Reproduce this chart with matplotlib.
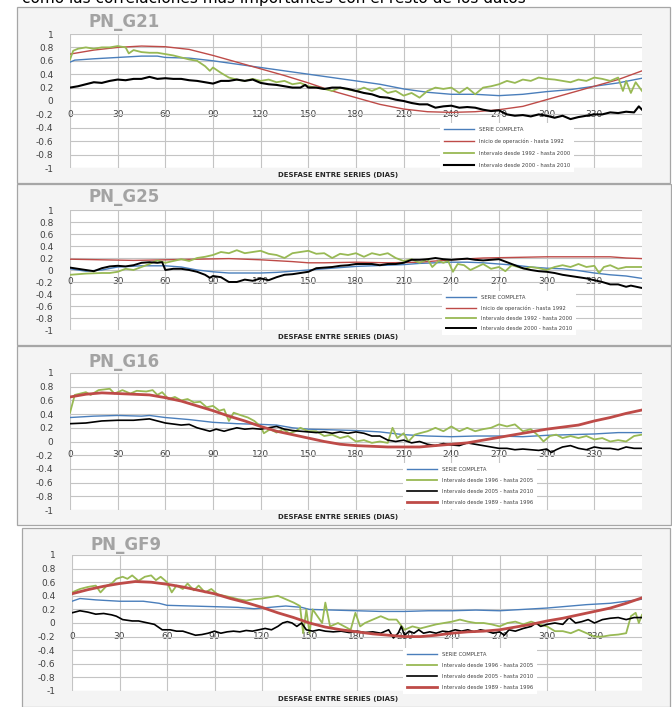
import matplotlib
matplotlib.use("Agg")
import matplotlib.pyplot as plt
from matplotlib.patches import Rectangle
from matplotlib.ticker import FuncFormatter, MultipleLocator

# ---- data (day, correlation) ----
# PN_G21
g21_serie = [(0, 0.58), (3, 0.61), (15, 0.63), (30, 0.65), (45, 0.67), (55, 0.67), (60, 0.65),
             (75, 0.64), (90, 0.6), (105, 0.55), (120, 0.5), (135, 0.45), (150, 0.4), (165, 0.35),
             (180, 0.3), (195, 0.25), (210, 0.18), (225, 0.13), (240, 0.1), (255, 0.1), (270, 0.08),
             (285, 0.1), (300, 0.14), (315, 0.17), (330, 0.22), (345, 0.27), (360, 0.34)]
g21_inicio = [(0, 0.7), (15, 0.76), (30, 0.8), (45, 0.82), (60, 0.81), (75, 0.77), (90, 0.68),
              (105, 0.58), (120, 0.48), (135, 0.38), (150, 0.27), (165, 0.15), (180, 0.05),
              (195, -0.05), (210, -0.12), (225, -0.16), (240, -0.17), (255, -0.16), (270, -0.13),
              (285, -0.08), (300, 0.02), (315, 0.12), (330, 0.22), (345, 0.32), (360, 0.45)]
g21_92_00 = [(0, 0.62), (2, 0.75), (5, 0.78), (10, 0.8), (15, 0.78), (20, 0.8), (25, 0.8), (30, 0.82),
             (35, 0.8), (37, 0.71), (40, 0.76), (45, 0.73), (50, 0.72), (55, 0.72), (60, 0.7),
             (65, 0.68), (70, 0.65), (75, 0.62), (80, 0.6), (85, 0.52), (88, 0.45), (90, 0.5),
             (95, 0.42), (100, 0.35), (105, 0.32), (110, 0.3), (115, 0.33), (120, 0.3), (125, 0.32),
             (130, 0.28), (135, 0.3), (140, 0.25), (145, 0.27), (150, 0.22), (155, 0.2), (160, 0.18),
             (165, 0.15), (170, 0.2), (175, 0.17), (180, 0.15), (185, 0.2), (190, 0.15), (195, 0.2),
             (200, 0.12), (205, 0.15), (210, 0.08), (215, 0.12), (220, 0.05), (225, 0.15), (230, 0.2),
             (235, 0.18), (240, 0.2), (245, 0.12), (250, 0.2), (255, 0.1), (260, 0.2), (265, 0.22),
             (270, 0.25), (275, 0.3), (280, 0.27), (285, 0.32), (290, 0.3), (295, 0.35), (300, 0.33),
             (305, 0.32), (310, 0.3), (315, 0.28), (320, 0.32), (325, 0.3), (330, 0.35), (335, 0.33),
             (340, 0.3), (345, 0.35), (348, 0.15), (350, 0.3), (353, 0.12), (356, 0.28), (360, 0.15)]
g21_00_10 = [(0, 0.2), (5, 0.22), (10, 0.25), (15, 0.28), (20, 0.27), (25, 0.3), (30, 0.32), (35, 0.31),
             (40, 0.33), (45, 0.33), (50, 0.36), (55, 0.33), (60, 0.34), (65, 0.33), (70, 0.33),
             (75, 0.31), (80, 0.3), (85, 0.28), (90, 0.26), (95, 0.3), (100, 0.3), (105, 0.32),
             (110, 0.3), (115, 0.32), (120, 0.27), (125, 0.25), (130, 0.24), (135, 0.22), (140, 0.2),
             (145, 0.2), (148, 0.24), (150, 0.2), (155, 0.2), (160, 0.18), (165, 0.2), (170, 0.2),
             (175, 0.18), (180, 0.15), (185, 0.12), (190, 0.1), (195, 0.06), (200, 0.05), (205, 0.02),
             (210, 0.0), (215, -0.03), (220, -0.05), (225, -0.05), (230, -0.1), (235, -0.08),
             (240, -0.07), (245, -0.1), (250, -0.09), (255, -0.1), (260, -0.13), (265, -0.15),
             (270, -0.14), (275, -0.2), (280, -0.22), (285, -0.21), (290, -0.23), (295, -0.2),
             (300, -0.22), (305, -0.25), (310, -0.22), (315, -0.27), (320, -0.24), (325, -0.22),
             (330, -0.2), (335, -0.2), (340, -0.17), (345, -0.18), (350, -0.16), (355, -0.17),
             (358, -0.08), (360, -0.13)]

# PN_G25
g25_serie = [(0, 0.02), (10, -0.02), (20, 0.0), (30, 0.05), (45, 0.07), (60, 0.07), (70, 0.05),
             (80, 0.0), (90, -0.03), (100, -0.05), (110, -0.05), (120, -0.05), (130, -0.04),
             (140, -0.02), (150, 0.0), (160, 0.02), (170, 0.04), (180, 0.06), (190, 0.07), (200, 0.08),
             (210, 0.09), (220, 0.11), (230, 0.12), (240, 0.13), (250, 0.13), (260, 0.12), (270, 0.1),
             (280, 0.08), (290, 0.05), (300, 0.03), (310, 0.02), (320, -0.01), (330, -0.05),
             (340, -0.08), (350, -0.1), (360, -0.14)]
g25_inicio = [(0, 0.18), (20, 0.17), (40, 0.16), (60, 0.17), (80, 0.18), (100, 0.19), (120, 0.17),
              (140, 0.14), (150, 0.12), (160, 0.12), (180, 0.13), (200, 0.12), (220, 0.13), (240, 0.17),
              (260, 0.2), (280, 0.21), (300, 0.22), (320, 0.22), (340, 0.22), (350, 0.2), (360, 0.19)]
g25_92_00 = [(0, -0.08), (10, -0.06), (20, -0.05), (25, -0.05), (30, -0.03), (35, 0.02), (40, 0.0),
             (45, 0.05), (50, 0.1), (55, 0.16), (60, 0.12), (65, 0.15), (70, 0.18), (75, 0.15),
             (80, 0.2), (85, 0.22), (90, 0.25), (95, 0.3), (100, 0.28), (105, 0.33), (110, 0.28),
             (115, 0.3), (120, 0.32), (125, 0.27), (130, 0.25), (135, 0.2), (140, 0.28), (145, 0.3),
             (150, 0.32), (155, 0.27), (160, 0.28), (165, 0.2), (170, 0.27), (175, 0.25), (180, 0.28),
             (185, 0.22), (190, 0.28), (195, 0.25), (200, 0.28), (205, 0.2), (210, 0.15), (215, 0.18),
             (220, 0.12), (225, 0.18), (228, 0.05), (232, 0.15), (235, 0.12), (238, 0.15), (241, -0.03),
             (244, 0.1), (248, 0.08), (252, 0.0), (256, 0.05), (260, 0.1), (265, 0.02), (270, 0.05),
             (274, -0.02), (278, 0.08), (282, 0.05), (286, 0.02), (290, 0.05), (295, 0.03), (300, 0.0),
             (305, 0.05), (310, 0.08), (315, 0.05), (320, 0.1), (325, 0.05), (330, 0.07), (333, -0.05),
             (336, 0.05), (340, 0.08), (345, 0.02), (350, 0.05), (355, 0.05), (360, 0.05)]
g25_00_10 = [(0, 0.04), (5, 0.02), (10, 0.0), (15, -0.02), (20, 0.03), (25, 0.06), (30, 0.07),
             (35, 0.06), (40, 0.08), (45, 0.12), (50, 0.13), (55, 0.12), (58, 0.13), (60, 0.0),
             (65, 0.02), (70, 0.02), (75, 0.0), (80, -0.03), (85, -0.08), (88, -0.13), (90, -0.1),
             (95, -0.12), (100, -0.2), (105, -0.2), (110, -0.16), (115, -0.18), (120, -0.14),
             (125, -0.17), (130, -0.12), (135, -0.08), (140, -0.07), (145, -0.05), (150, -0.03),
             (155, 0.03), (160, 0.04), (165, 0.05), (170, 0.07), (175, 0.08), (180, 0.1), (185, 0.1),
             (190, 0.1), (195, 0.08), (200, 0.1), (205, 0.1), (210, 0.12), (215, 0.17), (220, 0.17),
             (225, 0.18), (230, 0.2), (235, 0.18), (240, 0.17), (245, 0.18), (250, 0.19), (255, 0.17),
             (260, 0.16), (265, 0.17), (270, 0.18), (275, 0.13), (280, 0.08), (285, 0.03), (290, 0.0),
             (295, -0.02), (300, -0.03), (305, -0.05), (310, -0.08), (315, -0.1), (320, -0.12),
             (325, -0.14), (330, -0.17), (335, -0.2), (340, -0.24), (345, -0.24), (350, -0.28),
             (353, -0.26), (360, -0.3)]

# PN_G16
g16_serie = [(0, 0.35), (15, 0.37), (30, 0.38), (45, 0.37), (50, 0.38), (60, 0.35), (75, 0.32),
             (90, 0.28), (105, 0.26), (120, 0.25), (130, 0.24), (140, 0.2), (150, 0.18), (165, 0.17),
             (180, 0.16), (195, 0.14), (210, 0.1), (225, 0.08), (240, 0.07), (255, 0.08), (270, 0.08),
             (285, 0.07), (300, 0.09), (315, 0.1), (330, 0.11), (345, 0.13), (360, 0.13)]
g16_96_05 = [(0, 0.42), (3, 0.68), (10, 0.72), (13, 0.68), (18, 0.75), (25, 0.77), (28, 0.7),
             (33, 0.75), (38, 0.7), (42, 0.74), (48, 0.73), (52, 0.75), (55, 0.68), (58, 0.72),
             (62, 0.62), (66, 0.65), (70, 0.6), (74, 0.62), (78, 0.57), (82, 0.58), (86, 0.5),
             (90, 0.52), (94, 0.45), (97, 0.47), (100, 0.3), (103, 0.42), (108, 0.38), (112, 0.35),
             (116, 0.3), (120, 0.22), (122, 0.12), (126, 0.18), (130, 0.13), (134, 0.18), (138, 0.12),
             (142, 0.15), (145, 0.2), (150, 0.15), (155, 0.15), (160, 0.08), (165, 0.1), (170, 0.05),
             (175, 0.08), (180, 0.0), (185, 0.02), (190, -0.02), (195, 0.0), (200, -0.02), (203, 0.2),
             (206, 0.05), (210, 0.12), (213, 0.0), (217, 0.1), (220, 0.12), (225, 0.15), (230, 0.2),
             (235, 0.15), (240, 0.22), (245, 0.15), (250, 0.2), (255, 0.15), (260, 0.18), (265, 0.2),
             (270, 0.25), (275, 0.22), (280, 0.25), (285, 0.15), (290, 0.18), (295, 0.08), (298, 0.0),
             (302, 0.08), (306, 0.1), (310, 0.05), (315, 0.08), (320, 0.05), (325, 0.08), (330, 0.03),
             (335, 0.05), (340, 0.0), (345, 0.02), (350, 0.0), (355, 0.08), (360, 0.1)]
g16_05_10 = [(0, 0.26), (10, 0.27), (20, 0.3), (30, 0.31), (40, 0.31), (50, 0.33), (55, 0.3),
             (60, 0.27), (70, 0.24), (75, 0.25), (80, 0.2), (88, 0.15), (92, 0.18), (97, 0.15),
             (100, 0.17), (105, 0.2), (110, 0.18), (115, 0.19), (120, 0.18), (125, 0.2), (130, 0.22),
             (135, 0.18), (140, 0.16), (145, 0.15), (150, 0.14), (155, 0.13), (160, 0.14), (165, 0.12),
             (170, 0.14), (175, 0.12), (180, 0.14), (185, 0.12), (190, 0.08), (195, 0.08), (200, 0.02),
             (205, 0.0), (210, 0.02), (215, -0.02), (220, 0.0), (225, -0.04), (230, -0.06),
             (235, -0.03), (240, -0.05), (245, -0.06), (250, -0.02), (255, -0.04), (260, -0.06),
             (265, -0.08), (270, -0.1), (275, -0.1), (280, -0.12), (285, -0.11), (290, -0.12),
             (295, -0.13), (300, -0.11), (303, -0.16), (306, -0.12), (310, -0.08), (315, -0.06),
             (320, -0.1), (325, -0.12), (330, -0.08), (335, -0.1), (340, -0.1), (345, -0.12),
             (350, -0.08), (355, -0.1), (360, -0.1)]
g16_89_96 = [(0, 0.65), (10, 0.69), (20, 0.71), (30, 0.7), (40, 0.69), (50, 0.68), (60, 0.64),
             (70, 0.59), (80, 0.52), (90, 0.45), (100, 0.37), (110, 0.3), (120, 0.22), (130, 0.15),
             (140, 0.1), (150, 0.05), (160, 0.0), (170, -0.04), (180, -0.06), (190, -0.07), (200, -0.08),
             (210, -0.08), (220, -0.08), (230, -0.06), (240, -0.04), (250, -0.02), (260, 0.02),
             (270, 0.06), (280, 0.1), (290, 0.14), (300, 0.18), (310, 0.21), (320, 0.24), (330, 0.3),
             (340, 0.35), (350, 0.41), (360, 0.46)]

# PN_GF9
gf9_serie = [(0, 0.32), (5, 0.36), (15, 0.34), (30, 0.32), (45, 0.32), (55, 0.29), (60, 0.26),
             (75, 0.25), (90, 0.24), (105, 0.23), (115, 0.21), (125, 0.23), (135, 0.25), (145, 0.23),
             (150, 0.2), (165, 0.19), (180, 0.18), (195, 0.17), (210, 0.17), (225, 0.18), (240, 0.18),
             (255, 0.19), (270, 0.18), (285, 0.2), (300, 0.22), (315, 0.25), (325, 0.27), (340, 0.29),
             (350, 0.32), (360, 0.35)]
gf9_96_05 = [(0, 0.45), (5, 0.5), (10, 0.53), (15, 0.55), (18, 0.45), (22, 0.55), (25, 0.58),
             (28, 0.65), (32, 0.68), (35, 0.65), (38, 0.7), (42, 0.62), (46, 0.68), (50, 0.7),
             (53, 0.63), (56, 0.68), (60, 0.6), (63, 0.45), (66, 0.55), (70, 0.5), (73, 0.58),
             (77, 0.48), (80, 0.55), (84, 0.45), (88, 0.5), (92, 0.42), (96, 0.4), (100, 0.38),
             (105, 0.35), (110, 0.33), (115, 0.35), (120, 0.36), (125, 0.38), (130, 0.4), (135, 0.35),
             (140, 0.3), (144, 0.25), (146, -0.15), (148, 0.2), (150, -0.15), (152, 0.2), (155, 0.1),
             (158, 0.0), (160, 0.3), (163, -0.05), (168, 0.0), (172, -0.05), (176, -0.1), (179, 0.15),
             (182, -0.05), (185, 0.0), (190, 0.05), (195, 0.1), (200, 0.05), (205, 0.05), (210, -0.1),
             (215, -0.05), (220, -0.08), (225, -0.05), (230, -0.02), (235, 0.0), (240, 0.02),
             (245, 0.05), (250, 0.02), (255, 0.0), (260, 0.0), (265, -0.02), (270, -0.05), (275, 0.0),
             (280, 0.02), (285, -0.02), (290, 0.02), (295, -0.02), (300, -0.05), (305, -0.12),
             (310, -0.12), (315, -0.15), (320, -0.1), (325, -0.15), (330, -0.2), (335, -0.2),
             (340, -0.18), (345, -0.17), (350, -0.15), (353, 0.1), (356, 0.15), (358, 0.0), (360, 0.12)]
gf9_05_10 = [(0, 0.15), (5, 0.18), (10, 0.16), (15, 0.13), (20, 0.14), (25, 0.12), (28, 0.1),
             (32, 0.05), (38, 0.03), (42, 0.03), (48, 0.0), (52, -0.02), (57, -0.1), (62, -0.1),
             (66, -0.12), (70, -0.12), (74, -0.15), (78, -0.18), (82, -0.17), (86, -0.15), (90, -0.12),
             (94, -0.15), (98, -0.13), (102, -0.12), (106, -0.13), (110, -0.11), (114, -0.12),
             (118, -0.1), (122, -0.08), (126, -0.1), (130, -0.05), (133, 0.0), (136, 0.02), (139, 0.0),
             (142, -0.05), (145, 0.0), (148, -0.1), (152, -0.12), (156, -0.1), (160, -0.12),
             (165, -0.13), (170, -0.12), (175, -0.14), (180, -0.12), (185, -0.14), (190, -0.13),
             (195, -0.15), (200, -0.1), (203, -0.22), (206, -0.15), (208, -0.05), (210, -0.18),
             (213, -0.12), (216, -0.15), (219, -0.1), (222, -0.15), (226, -0.13), (230, -0.15),
             (234, -0.12), (238, -0.13), (242, -0.1), (246, -0.12), (250, -0.1), (254, -0.13),
             (258, -0.1), (262, -0.12), (266, -0.15), (270, -0.13), (273, -0.18), (276, -0.1),
             (280, -0.12), (285, -0.08), (290, -0.05), (293, 0.0), (296, -0.05), (300, -0.02),
             (305, 0.0), (310, -0.02), (314, 0.08), (318, 0.0), (322, 0.02), (326, 0.05), (330, 0.0),
             (335, 0.05), (340, 0.07), (345, 0.08), (350, 0.05), (355, 0.08), (360, 0.08)]
gf9_89_96 = [(0, 0.43), (10, 0.49), (20, 0.54), (30, 0.58), (40, 0.61), (50, 0.6), (60, 0.57),
             (70, 0.53), (80, 0.48), (90, 0.43), (100, 0.36), (110, 0.3), (120, 0.23), (130, 0.15),
             (140, 0.08), (150, 0.0), (160, -0.06), (170, -0.1), (180, -0.13), (190, -0.16),
             (200, -0.18), (210, -0.2), (220, -0.2), (230, -0.18), (240, -0.15), (250, -0.13),
             (260, -0.12), (270, -0.1), (280, -0.06), (290, -0.02), (300, 0.03), (310, 0.07),
             (320, 0.12), (330, 0.17), (340, 0.22), (350, 0.29), (360, 0.37)]

labels_a = ["SERIE COMPLETA", "Inicio de operación - hasta 1992",
            "Intervalo desde 1992 - hasta 2000", "Intervalo desde 2000 - hasta 2010"]
labels_b = ["SERIE COMPLETA", "Intervalo desde 1996 - hasta 2005",
            "Intervalo desde 2005 - hasta 2010", "Intervalo desde 1989 - hasta 1996"]
x_ticks = list(range(0, 331, 30))

BLUE, RED, GREEN, BLACK = "#4a7ebb", "#be4b48", "#98b954", "#000000"

W, H = 672, 707


def fx(px):
    return px / W


def fy(py):
    return 1 - py / H


def yfmt(v, pos):
    v = round(v, 1)
    if v == 0:
        return "0"
    if v == int(v):
        return str(int(v))
    return f"{v:g}"


# frame, plot box (l, t, r, b), title pos, x-label y, legend top-left, legend row spacing
panels = [
    dict(title="PN_G21", frame=(17, 7, 670, 183), plot=(70, 34, 642, 168), title_xy=(88, 27),
         xlab_y=175, leg=(440, 123), spacing=1.25,
         series=[(g21_serie, BLUE, 1.0), (g21_inicio, RED, 1.0),
                 (g21_92_00, GREEN, 1.3), (g21_00_10, BLACK, 1.5)], labels=labels_a),
    dict(title="PN_G25", frame=(17, 184, 671, 345), plot=(70, 210, 642, 330), title_xy=(88, 202),
         xlab_y=337, leg=(442, 291), spacing=0.95,
         series=[(g25_serie, BLUE, 1.0), (g25_inicio, RED, 1.0),
                 (g25_92_00, GREEN, 1.3), (g25_00_10, BLACK, 1.4)], labels=labels_a),
    dict(title="PN_G16", frame=(17, 346, 671, 525), plot=(70, 373, 642, 510), title_xy=(88, 367),
         xlab_y=517, leg=(403, 463), spacing=1.1,
         series=[(g16_serie, BLUE, 1.0), (g16_96_05, GREEN, 1.3),
                 (g16_05_10, BLACK, 1.2), (g16_89_96, RED, 2.0)], labels=labels_b),
    dict(title="PN_GF9", frame=(22, 528, 670, 707), plot=(72, 555, 642, 691), title_xy=(90, 550),
         xlab_y=699, leg=(403, 648), spacing=1.1,
         series=[(gf9_serie, BLUE, 1.0), (gf9_96_05, GREEN, 1.3),
                 (gf9_05_10, BLACK, 1.2), (gf9_89_96, RED, 2.0)], labels=labels_b),
]

fig = plt.figure(figsize=(6.72, 7.07), dpi=100, facecolor="white")

# sentence from the page above, cut by the top edge as in the source scan
fig.text(fx(22), fy(3), "como las correlaciones más importantes con el resto de los datos",
         fontsize=11, va="baseline", ha="left", color="black")

for p in panels:
    x0, y0, x1, y1 = p["frame"]
    fig.add_artist(Rectangle((fx(x0), fy(y1)), fx(x1) - fx(x0), fy(y0) - fy(y1),
                             transform=fig.transFigure, facecolor="#f4f4f4",
                             edgecolor="#a6a6a6", linewidth=0.9, zorder=-5))
    l, t, r, b = p["plot"]
    ax = fig.add_axes([fx(l), fy(b), fx(r) - fx(l), fy(t) - fy(b)])
    ax.set_facecolor("white")

    handles = []
    for (pts, color, lw), lab in zip(p["series"], p["labels"]):
        days, vals = zip(*pts)
        h, = ax.plot(days, vals, color=color, lw=lw, label=lab)
        handles.append(h)

    ax.set_xlim(0, 360)
    ax.set_ylim(-1, 1)
    ax.set_xticks(x_ticks)
    ax.yaxis.set_major_locator(MultipleLocator(0.2))
    ax.yaxis.set_major_formatter(FuncFormatter(yfmt))
    ax.grid(True, color="#c4c4c4", lw=0.8)
    ax.set_axisbelow(True)
    for s in ax.spines.values():
        s.set_visible(False)
    ax.spines["bottom"].set_position(("data", -0.2))
    ax.tick_params(axis="both", length=0, labelsize=6.5, colors="#404040")
    ax.tick_params(axis="x", pad=-3.5)
    ax.tick_params(axis="y", pad=12)
    for lbl in ax.get_yticklabels():
        lbl.set_ha("right")

    tx, ty = p["title_xy"]
    fig.text(fx(tx), fy(ty), p["title"], fontsize=12, fontweight="bold",
             color="#a3a3a3", va="baseline", ha="left")
    fig.text(fx(338), fy(p["xlab_y"]), "DESFASE ENTRE SERIES (DIAS)", fontsize=5,
             fontweight="bold", color="#262626", ha="center", va="center")

    lx, ly = p["leg"]
    leg = ax.legend(handles=handles, loc="upper left", bbox_to_anchor=(fx(lx), fy(ly)),
                    bbox_transform=fig.transFigure, fontsize=3.8, frameon=True,
                    facecolor="white", edgecolor="none", framealpha=1, fancybox=False,
                    handlelength=5.7, handletextpad=0.8, labelspacing=p["spacing"],
                    borderpad=0.8, borderaxespad=0)
    for txt in leg.get_texts():
        txt.set_color("#404040")

fig.savefig("out.png", dpi=100, facecolor="white")
